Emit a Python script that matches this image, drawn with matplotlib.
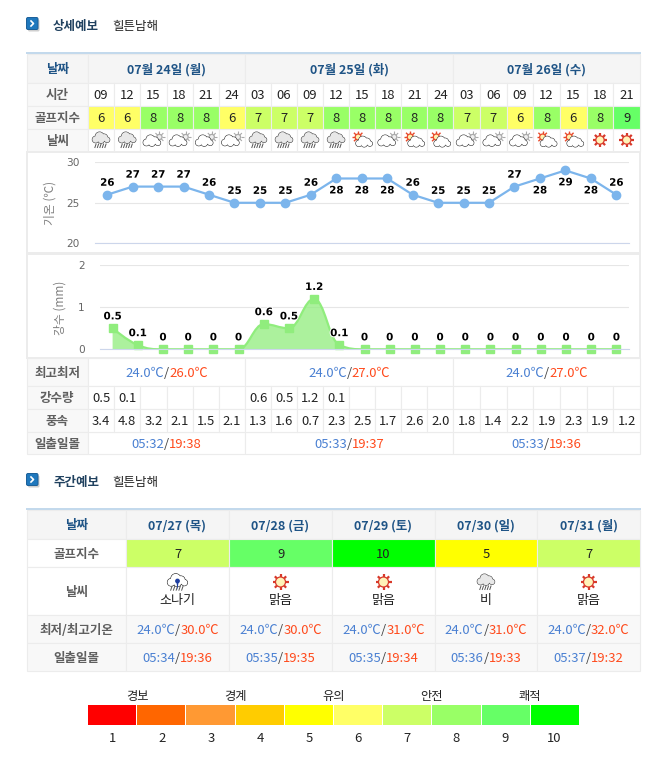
import numpy as np
import matplotlib
matplotlib.use('Agg')
import matplotlib.pyplot as plt
from matplotlib.patches import Rectangle, Circle, Polygon, FancyBboxPatch, PathPatch
from matplotlib.path import Path
import matplotlib.patheffects as pe

plt.rcParams['font.family'] = ['Noto Sans CJK KR', 'DejaVu Sans']

# detail table
hours = ['09', '12', '15', '18', '21', '24', '03', '06', '09', '12', '15', '18', '21', '24', '03', '06', '09', '12', '15', '18', '21']
golf = [6, 6, 8, 8, 8, 6, 7, 7, 7, 8, 8, 8, 8, 8, 7, 7, 6, 8, 6, 8, 9]
weather = ['rain', 'rain', 'cloud', 'cloud', 'cloud', 'cloud', 'rain', 'rain', 'rain', 'rain', 'suncloud', 'cloud',
           'suncloud', 'suncloud', 'cloud', 'cloud', 'cloud', 'suncloud', 'suncloud', 'sun', 'sun']
temp = [26, 27, 27, 27, 26, 25, 25, 25, 26, 28, 28, 28, 26, 25, 25, 25, 27, 28, 29, 28, 26]
temp_below = [9, 10, 11, 17, 18, 19]
rain = [0.5, 0.1, 0, 0, 0, 0, 0.6, 0.5, 1.2, 0.1, 0, 0, 0, 0, 0, 0, 0, 0, 0, 0, 0]
rain_txt = ['0.5', '0.1', '', '', '', '', '0.6', '0.5', '1.2', '0.1', '', '', '', '', '', '', '', '', '', '', '']
wind = ['3.4', '4.8', '3.2', '2.1', '1.5', '2.1', '1.3', '1.6', '0.7', '2.3', '2.5', '1.7', '2.6', '2.0', '1.8', '1.4', '2.2', '1.9', '2.3', '1.9', '1.2']
days = ['07월 24일 (월)', '07월 25일 (화)', '07월 26일 (수)']
day_cols = [6, 8, 7]
day_minmax = [('24.0℃', '26.0℃'), ('24.0℃', '27.0℃'), ('24.0℃', '27.0℃')]
day_sun = [('05:32', '19:38'), ('05:33', '19:37'), ('05:33', '19:36')]

# week table
week_days = ['07/27 (목)', '07/28 (금)', '07/29 (토)', '07/30 (일)', '07/31 (월)']
week_golf = [7, 9, 10, 5, 7]
week_icon = ['shower', 'sun', 'sun', 'rain', 'sun']
week_txt = ['소나기', '맑음', '맑음', '비', '맑음']
week_minmax = [('24.0℃', '30.0℃'), ('24.0℃', '30.0℃'), ('24.0℃', '31.0℃'), ('24.0℃', '31.0℃'), ('24.0℃', '32.0℃')]
week_sun = [('05:34', '19:36'), ('05:35', '19:35'), ('05:35', '19:34'), ('05:36', '19:33'), ('05:37', '19:32')]

# legend
levels = [1, 2, 3, 4, 5, 6, 7, 8, 9, 10]
level_colors = {1: '#ff0000', 2: '#ff6600', 3: '#ff9933', 4: '#ffcc00', 5: '#ffff00',
                6: '#ffff66', 7: '#ccff66', 8: '#99ff66', 9: '#66ff66', 10: '#00ff00'}
level_names = ['경보', '경계', '유의', '안전', '쾌적']

BORDER = '#ececec'
HEAD = '#f5f5f5'
SIDE = '#f8f8f8'
NAVY = '#1f5486'
GRAY = '#5f5f5f'
BLUE = '#4a80d2'
RED = '#ff4a1c'

W, H = 670, 764
fig = plt.figure(figsize=(W/100, H/100), dpi=100)
page = fig.add_axes([0, 0, 1, 1])
page.set_xlim(0, W)
page.set_ylim(H, 0)
page.axis('off')
renderer = fig.canvas.get_renderer()


def px_axes(l, t, r, b):
    ax = fig.add_axes([l/W, 1-b/H, (r-l)/W, (b-t)/H])
    ax.patch.set_visible(False)
    return ax


def cell(x0, x1, y0, y1, fc='white'):
    page.add_patch(Rectangle((x0, y0), x1-x0, y1-y0, fc=fc, ec=BORDER, lw=0.8))


def label(x, y, s, size=9, color='black', bold=False, **kw):
    return page.text(x, y+1.6, s, fontsize=size, color=color, ha='center', va='center',
                     fontweight='bold' if bold else 'normal', **kw)


def two_color(x, y, a, b, size=9.4):
    # blue/red text pair centred on x
    y = y+1.6
    t1 = page.text(0, y, a, fontsize=size, color=BLUE, va='center')
    t2 = page.text(0, y, '/', fontsize=size, color='#444444', va='center')
    t3 = page.text(0, y, b, fontsize=size, color=RED, va='center')
    ws = [t.get_window_extent(renderer).width for t in (t1, t2, t3)]
    x0 = x-sum(ws)/2
    for t, w in zip((t1, t2, t3), ws):
        t.set_x(x0)
        x0 += w


def blob(cx, cy, s, fc, ec, z=5):
    # cloud outline from overlapping circles
    parts = [(-5.5, 2, 3.2), (-1.5, -1.2, 4.2), (3, 0, 3.4), (6, 2.3, 2.6), (0, 2.5, 3.2)]
    for dx, dy, r in parts:
        page.add_patch(Circle((cx+dx*s, cy+dy*s), r*s, fc=ec, ec=ec, lw=0.8, zorder=z))
    for dx, dy, r in parts:
        page.add_patch(Circle((cx+dx*s, cy+dy*s), r*s, fc=fc, ec='none', zorder=z+0.1))


def sun(cx, cy, r, ray, core, z=4, lw=1.1):
    for a in np.arange(0, 2*np.pi, np.pi/4):
        page.plot([cx+r*np.cos(a), cx+(r+3)*np.cos(a)], [cy+r*np.sin(a), cy+(r+3)*np.sin(a)],
                  color=ray, lw=lw, zorder=z, solid_capstyle='butt')
    page.add_patch(Circle((cx, cy), r, fc=core, ec=ray, lw=0.9, zorder=z))


def rain_ticks(cx, cy, s=1.0):
    for dx in (-5, -2.5, 0, 2.5, 5):
        page.plot([cx+dx*s, cx+(dx-1.2)*s], [cy+3.5*s, cy+7*s], color='#555555', lw=0.7, zorder=7)


def icon(kind, cx, cy, big=False):
    if kind == 'rain':
        blob(cx, cy-2.5, 1.0, '#e8e8e8', '#444444')
        rain_ticks(cx, cy+0.5)
    elif kind == 'cloud':
        sun(cx+6, cy-3, 2.6, '#aaaaaa', '#eeeeee', lw=0.8)
        blob(cx-1.5, cy+0.5, 1.0, '#ffffff', '#333333')
    elif kind == 'suncloud':
        sun(cx-4, cy-3, 3.0, '#e8492a', '#fff2b0', lw=1.0)
        blob(cx+2, cy+1.5, 0.95, '#ffffff', '#333333')
    elif kind == 'sun':
        sun(cx, cy, 5.0 if big else 4.2, '#d8392a', '#fff3b8', lw=1.6)
    elif kind == 'shower':
        blob(cx, cy-2, 1.15, '#ffffff', '#222222')
        rain_ticks(cx, cy+0.5, 1.1)
        page.add_patch(Circle((cx, cy-1), 2.4, fc='#1f3fa0', ec='none', zorder=8))
        page.add_patch(Polygon([[cx-1, cy], [cx+1, cy], [cx, cy+8]], fc='#1f3fa0', ec='none', zorder=8))


def heading(y, title, name):
    page.add_patch(FancyBboxPatch((28, y-5.5), 11.5, 12, boxstyle='round,pad=0,rounding_size=1.5', fc='#cfcfcf', ec='none'))
    page.add_patch(FancyBboxPatch((26.5, y-7.5), 11.5, 12, boxstyle='round,pad=0,rounding_size=1.5', fc='#1f78bd', ec='#1b5f98', lw=0.7))
    page.plot([31, 33.5, 31], [y-4, y-1.5, y+1], color='white', lw=1.2)
    page.text(53, y+1.5, title, fontsize=9, color='#20415f', fontweight='bold', va='center')
    page.text(112, y+1.5, name, fontsize=9, color='#222222', va='center')


def smooth_path(xs, ys):
    # spline through the data, same control point rule as the web chart
    n = len(xs)
    verts = [(xs[0], ys[0])]
    codes = [Path.MOVETO]
    right = (xs[0], ys[0])
    for i in range(1, n):
        x, y = xs[i], ys[i]
        if i < n-1:
            px, py, nx, ny = xs[i-1], ys[i-1], xs[i+1], ys[i+1]
            lx, ly = (1.5*x+px)/2.5, (1.5*y+py)/2.5
            rx, ry = (1.5*x+nx)/2.5, (1.5*y+ny)/2.5
            corr = (ry-ly)*(rx-x)/(rx-lx)+y-ry
            ly += corr
            ry += corr
            if (ly > py and ly > y) or (ly < py and ly < y):
                ly = max(min(ly, max(py, y)), min(py, y))
                ry = 2*y-ly
            if (ry > ny and ry > y) or (ry < ny and ry < y):
                ry = max(min(ry, max(ny, y)), min(ny, y))
                ly = 2*y-ry
        else:
            lx, ly, rx, ry = x, y, x, y
        verts += [right, (lx, ly), (x, y)]
        codes += [Path.CURVE4]*3
        right = (rx, ry)
    return verts, codes


# ---- detail table
heading(25, '상세예보', '힐튼남해')
L, R = 26.5, 640
C0 = 88
edges = [C0]
ends = [245, 453.3, R]
for n, e in zip(day_cols, ends):
    edges += list(np.linspace(edges[-1], e, n+1)[1:])
centers = [(a+b)/2 for a, b in zip(edges[:-1], edges[1:])]
day_edges = [C0]+ends
rows = [54, 82.5, 105.5, 128.5, 151.5]
low = [357.5, 385.5, 408.5, 431.5, 454]

for y0, y1, s, c in zip(rows[:-1], rows[1:], ['날짜', '시간', '골프지수', '날씨'], [NAVY, GRAY, GRAY, GRAY]):
    cell(L, C0, y0, y1, HEAD if s == '날짜' else SIDE)
    label((L+C0)/2, (y0+y1)/2, s, color=c, bold=True)
for j, d in enumerate(days):
    cell(day_edges[j], day_edges[j+1], rows[0], rows[1], HEAD)
    label((day_edges[j]+day_edges[j+1])/2, (rows[0]+rows[1])/2, d, color=NAVY, bold=True)
for i, c in enumerate(centers):
    a, b = edges[i], edges[i+1]
    cell(a, b, rows[1], rows[2])
    label(c, (rows[1]+rows[2])/2, hours[i], size=9.4, color='#222222')
    cell(a, b, rows[2], rows[3], level_colors[golf[i]])
    label(c, (rows[2]+rows[3])/2, str(golf[i]), size=9.4, color='#222222')
    cell(a, b, rows[3], rows[4])
    icon(weather[i], c, (rows[3]+rows[4])/2)
page.add_patch(Rectangle((L-0.5, 52.3), R-L+1, 2, fc='#c3d9ec', ec='none', zorder=3))

# chart panels
page.add_patch(Rectangle((L, 152), R-L, 101, fc='white', ec=BORDER, lw=1.4))
page.add_patch(Rectangle((L, 254), R-L, 103.5, fc='white', ec=BORDER, lw=1.4))

ax = px_axes(94.5, 162.3, 629, 243.3)
ax.plot(range(len(temp)), temp, color='#7cb5ec', lw=1.6, marker='o', ms=6, clip_on=False)
for i, v in enumerate(temp):
    off = -8.6 if i in temp_below else 8.6
    ax.annotate(str(v), (i, v), xytext=(0, off), textcoords='offset points', ha='center', va='center',
                fontsize=7.4, fontweight='bold', family='DejaVu Sans', color='black',
                path_effects=[pe.withStroke(linewidth=1.5, foreground='white')], zorder=6)
ax.set_xlim(-0.5, 20.5)
ax.set_ylim(20, 30)
ax.set_xticks([])
ax.set_yticks([20, 25, 30])
ax.tick_params(axis='y', length=0, pad=10.5, labelsize=7.6, labelcolor='#666666', labelfontfamily='DejaVu Sans')
ax.grid(axis='y', color='#e6e6e6', lw=0.8)
ax.set_axisbelow(True)
for k in ['top', 'left', 'right']:
    ax.spines[k].set_visible(False)
ax.spines['bottom'].set_color('#ccd6eb')
page.text(50.5, 203, '기온 (℃)', fontsize=8.5, color='#808080', rotation=90, ha='center', va='center')

ax = px_axes(100, 265.3, 629, 349.3)
xs = list(range(len(rain)))
v, c = smooth_path(xs, rain)
ax.add_patch(PathPatch(Path(v+[(xs[-1], 0), (xs[0], 0), (xs[0], rain[0])], c+[Path.LINETO, Path.LINETO, Path.LINETO]),
                       fc='#90ed7d', alpha=0.75, ec='none'))
ax.add_patch(PathPatch(Path(v, c), fc='none', ec='#90ed7d', lw=1.6))
ax.plot(xs, rain, ls='none', color='#90ed7d', marker='s', ms=6, clip_on=False)
for i, r in enumerate(rain):
    ax.annotate('%g' % r, (i, r), xytext=(0, 8.6), textcoords='offset points', ha='center', va='center',
                fontsize=7.4, fontweight='bold', family='DejaVu Sans', color='black',
                path_effects=[pe.withStroke(linewidth=1.5, foreground='white')], zorder=6)
ax.set_xlim(-0.5, 20.5)
ax.set_ylim(0, 2)
ax.set_xticks([])
ax.set_yticks([0, 1, 2])
ax.tick_params(axis='y', length=0, pad=11, labelsize=7.6, labelcolor='#666666', labelfontfamily='DejaVu Sans')
ax.grid(axis='y', color='#e6e6e6', lw=0.8)
ax.set_axisbelow(True)
for k in ['top', 'left', 'right']:
    ax.spines[k].set_visible(False)
ax.spines['bottom'].set_color('#ccd6eb')
page.text(60.5, 308, '강수 (mm)', fontsize=8.5, color='#808080', rotation=90, ha='center', va='center')

for y0, y1, s in zip(low[:-1], low[1:], ['최고최저', '강수량', '풍속', '일출일몰']):
    cell(L, C0, y0, y1, SIDE)
    label((L+C0)/2, (y0+y1)/2, s, color=GRAY, bold=True)
for j in range(3):
    a, b = day_edges[j], day_edges[j+1]
    cell(a, b, low[0], low[1])
    two_color((a+b)/2, (low[0]+low[1])/2, *day_minmax[j])
    cell(a, b, low[3], low[4])
    two_color((a+b)/2, (low[3]+low[4])/2, *day_sun[j])
for i, c in enumerate(centers):
    a, b = edges[i], edges[i+1]
    cell(a, b, low[1], low[2])
    cell(a, b, low[2], low[3])
    label(c, (low[1]+low[2])/2, rain_txt[i], size=9.4, color='#222222')
    label(c, (low[2]+low[3])/2, wind[i], size=9.4, color='#222222')

# ---- week table
heading(481, '주간예보', '힐튼남해')
wx = [L, 126, 229, 332, 435, 537, R]
wy = [510, 538.5, 566.5, 614.5, 642.5, 670.5]
names = ['날짜', '골프지수', '날씨', '최저/최고기온', '일출일몰']
side_fc = [HEAD, 'white', 'white', SIDE, SIDE]
for r, s in enumerate(names):
    cell(wx[0], wx[1], wy[r], wy[r+1], side_fc[r])
    label((wx[0]+wx[1])/2, (wy[r]+wy[r+1])/2, s, color=NAVY if r == 0 else GRAY, bold=True)
for i in range(5):
    a, b = wx[i+1], wx[i+2]
    c = (a+b)/2
    cell(a, b, wy[0], wy[1], HEAD)
    label(c, (wy[0]+wy[1])/2, week_days[i], color=NAVY, bold=True)
    cell(a, b, wy[1], wy[2], level_colors[week_golf[i]])
    label(c, (wy[1]+wy[2])/2, str(week_golf[i]), size=9.4, color='#222222')
    cell(a, b, wy[2], wy[3])
    icon(week_icon[i], c, 582, big=True)
    label(c, 599, week_txt[i], size=9.4, color='#222222')
    cell(a, b, wy[3], wy[4], SIDE)
    two_color(c, (wy[3]+wy[4])/2, *week_minmax[i])
    cell(a, b, wy[4], wy[5], SIDE)
    two_color(c, (wy[4]+wy[5])/2, *week_sun[i])
page.add_patch(Rectangle((L-0.5, 508.3), R-L+1, 2, fc='#c3d9ec', ec='none', zorder=3))

# ---- legend bar
ax = px_axes(88, 705, 579, 725)
ax.bar(levels, [1]*10, width=0.98, color=[level_colors[k] for k in levels], linewidth=0)
ax.set_xlim(0.51, 10.49)
ax.set_ylim(0, 1)
ax.axis('off')
for k in levels:
    page.text(88+(k-0.5)*49.1, 738, str(k), fontsize=9.4, color='#222222', ha='center', va='center')
for k, s in zip([1.5, 3.5, 5.5, 7.5, 9.5], level_names):
    page.text(88+(k-0.5)*49.1, 696.5, s, fontsize=8.8, color='#222222', ha='center', va='center')

fig.savefig('out.png', dpi=100)
